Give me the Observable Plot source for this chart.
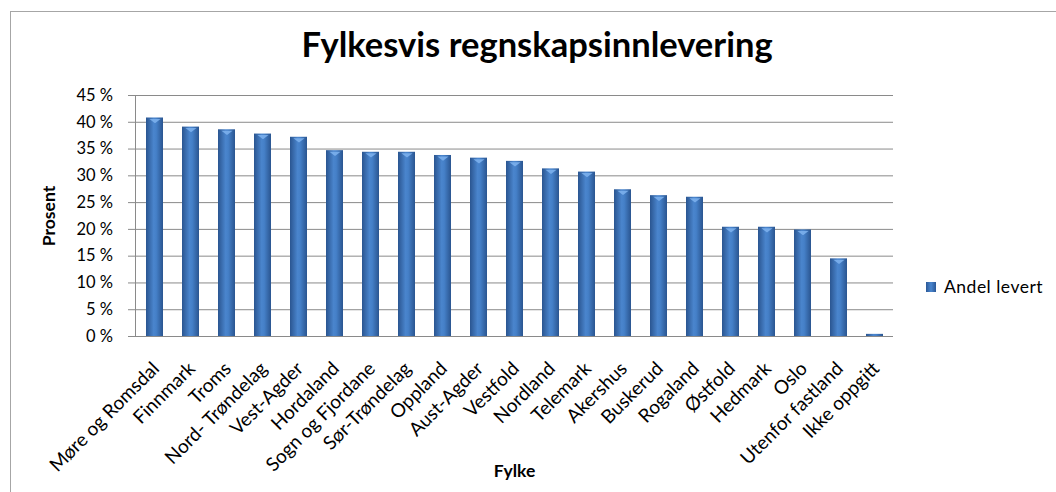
<!DOCTYPE html>
<html>
<head>
<meta charset="utf-8">
<script src="https://cdn.jsdelivr.net/npm/d3@7"></script>
<script src="https://cdn.jsdelivr.net/npm/@observablehq/plot@0.6"></script>
<style>
  html, body { margin: 0; padding: 0; background: #fff; }
  #wrap { position: relative; width: 1056px; height: 492px; overflow: hidden; font-family: Lato, "Open Sans", sans-serif; }
  #frame { position: absolute; left: 10px; top: 11px; width: 1100px; height: 600px; border-left: 1px solid #a6a6a6; border-top: 1px solid #a6a6a6; }
  #title { position: absolute; left: 0; width: 1074px; top: 24px; text-align: center; font-weight: bold; font-size: 34.5px; line-height: 40px; color: #000; }
  #chart { position: absolute; left: 0; top: 0; }
  #legend { position: absolute; left: 926px; top: 276px; font-size: 17.5px; letter-spacing: 0.5px; line-height: 22px; color: #000; display: flex; align-items: center; }
  #legend .sw { width: 10px; height: 10px; margin-right: 8px; background: linear-gradient(to right, #2b5896, #4a86cf 50%, #2b5896); }
</style>
</head>
<body>
<div id="wrap">
  <div id="frame"></div>
  <div id="chart"></div>
  <div id="title">Fylkesvis regnskapsinnlevering</div>
  <div id="legend"><span class="sw"></span><span id="legtext"></span></div>
</div>
<script>
const fylker = ["Møre og Romsdal","Finnmark","Troms","Nord- Trøndelag","Vest-Agder","Hordaland","Sogn og Fjordane","Sør-Trøndelag","Oppland","Aust-Agder","Vestfold","Nordland","Telemark","Akershus","Buskerud","Rogaland","Østfold","Hedmark","Oslo","Utenfor fastland","Ikke oppgitt"];
const andelLevert = [40.8,39.1,38.6,37.8,37.2,34.7,34.4,34.4,33.8,33.3,32.7,31.3,30.7,27.4,26.3,26.0,20.4,20.4,19.9,14.5,0.4];
const yTicks = [0,5,10,15,20,25,30,35,40,45];
const seriesName = "Andel levert";

document.getElementById("legtext").textContent = seriesName;
const data = fylker.map((f, i) => ({fylke: f, verdi: andelLevert[i]}));

// inverted-triangle bevel highlight at the top of each bar
const bevel = {
  draw(ctx, size) {
    const w = Math.sqrt(size);
    ctx.moveTo(-w / 2, 0);
    ctx.lineTo(w / 2, 0);
    ctx.lineTo(0, w * 0.38);
    ctx.closePath();
  }
};

const chart = Plot.plot({
  width: 1056,
  height: 492,
  marginLeft: 135,
  marginRight: 163,
  marginTop: 95,
  marginBottom: 156,
  style: {fontFamily: "Lato, 'Open Sans', sans-serif", fontSize: "16.5px", color: "#000", background: "transparent"},
  x: {domain: fylker, paddingInner: 0.54, paddingOuter: 0.27, label: null, axis: null},
  y: {domain: [0, 45], label: null, axis: null},
  marks: [
    Plot.gridY(yTicks, {stroke: "#8a8a8a", strokeOpacity: 1, strokeWidth: 1}),
    Plot.axisY(yTicks, {tickFormat: () => "", tickSize: 7, stroke: "#8a8a8a", label: null}),
    Plot.text(yTicks, {y: d => d, text: d => d + " %", frameAnchor: "left", textAnchor: "end", lineAnchor: "middle", dx: -22.5, fontSize: 16.5, fill: "#000"}),
    Plot.frame({anchor: "left", stroke: "#8a8a8a"}),
    Plot.barY(data, {x: "fylke", y: "verdi", fill: "url(#barGrad)"}),
    Plot.dot(data, {filter: d => d.verdi > 2, x: "fylke", y: "verdi", symbol: bevel, r: 6.3, dy: 1, fill: "#7fb3ee", fillOpacity: 0.85, stroke: "none"}),
    Plot.text(fylker, {x: d => d, text: d => d, frameAnchor: "bottom", rotate: -45, textAnchor: "end", lineAnchor: "middle", dx: 1, dy: 29, fontSize: 19, fill: "#000"}),
    Plot.text(["Prosent"], {frameAnchor: "left", textAnchor: "middle", lineAnchor: "middle", dx: -86.5, dy: 0, rotate: -90, fontWeight: "bold", fontSize: 17.5}),
    Plot.text(["Fylke"], {frameAnchor: "bottom", textAnchor: "middle", lineAnchor: "middle", dx: 0, dy: 135, fontWeight: "bold", fontSize: 17.5})
  ]
});

const defs = d3.select(chart).insert("defs", ":first-child");
const g = defs.append("linearGradient").attr("id", "barGrad").attr("x1", "0").attr("x2", "1").attr("y1", "0").attr("y2", "0");
g.append("stop").attr("offset", "0%").attr("stop-color", "#2a5590");
g.append("stop").attr("offset", "45%").attr("stop-color", "#4a85cd");
g.append("stop").attr("offset", "60%").attr("stop-color", "#4580c8");
g.append("stop").attr("offset", "100%").attr("stop-color", "#2a5590");

document.getElementById("chart").appendChild(chart);
</script>
</body>
</html>
